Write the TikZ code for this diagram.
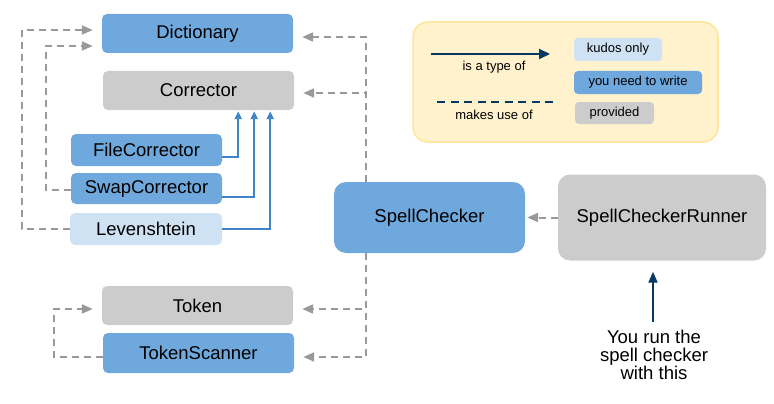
\documentclass[tikz,border=0pt]{standalone}
\usepackage{fontspec}
\setmainfont{Liberation Sans}
\usetikzlibrary{arrows.meta}

\definecolor{mustwrite}{HTML}{6FA8DC}
\definecolor{kudos}{HTML}{CFE2F3}
\definecolor{given}{HTML}{CCCCCC}
\definecolor{typeblue}{HTML}{3D85C6}
\definecolor{usegray}{HTML}{999999}
\definecolor{navy}{HTML}{073763}
\definecolor{keyfill}{HTML}{FFF2CC}
\definecolor{keyline}{HTML}{FFE599}

\begin{document}
\begin{tikzpicture}[x=1pt,y=-1pt,
  cls/.style={rectangle,rounded corners=5pt,inner sep=0pt,
    font=\fontsize{18.5}{20}\selectfont},
  big/.style={cls,rounded corners=12pt},
  keybox/.style={rectangle,rounded corners=4pt,inner sep=0pt,
    font=\fontsize{13}{15}\selectfont},
  isa/.style={typeblue,line width=2pt,-{Triangle[length=8pt,width=7pt]}},
  uses/.style={usegray,line width=2pt,dash pattern=on 7pt off 5pt,
    -{Triangle[length=11pt,width=9pt]}},
  keytext/.style={font=\fontsize{13}{15}\selectfont}]
\useasboundingbox (0,0) rectangle (774,404);

%Classes
\node[cls,fill=mustwrite,minimum width=191pt,minimum height=39pt] (dict) at (197.5,33.5) {Dictionary};
\node[cls,fill=given,minimum width=191pt,minimum height=39pt] (corr) at (198.5,90.5) {Corrector};
\node[cls,fill=mustwrite,minimum width=151pt,minimum height=32pt] (filec) at (146.5,150) {FileCorrector};
\node[cls,fill=mustwrite,minimum width=151pt,minimum height=31pt] (swapc) at (146.5,188.5) {SwapCorrector};
\node[cls,fill=kudos,minimum width=152pt,minimum height=32pt] (leven) at (146,229) {Levenshtein};
\node[cls,fill=given,minimum width=191pt,minimum height=39pt] (token) at (197.5,305.5) {Token};
\node[cls,fill=mustwrite,minimum width=191pt,minimum height=40pt] (tscan) at (198.5,353) {TokenScanner};
\node[big,fill=mustwrite,minimum width=191pt,minimum height=71pt] (spell) at (429.5,217.5) {SpellChecker};
\node[big,fill=given,minimum width=208pt,minimum height=86pt] (runner) at (662,217.5) {SpellCheckerRunner};
\node[align=center,inner sep=0pt,font=\fontsize{18.5}{18.3}\selectfont] (note) at (654,355) {You run the\\spell checker\\with this};

%Legend
\node[rectangle,rounded corners=15pt,fill=keyfill,draw=keyline,line width=1.5pt,
  minimum width=305pt,minimum height=120pt] (legend) at (565.5,82) {};
\coordinate (isaA) at (431,54);
\coordinate (isaB) at (550,54);
\coordinate (useA) at (437,102);
\coordinate (useB) at (557,102);
\draw[navy,line width=2pt,-{Triangle[length=11pt,width=10pt]}] (isaA) -- (isaB);
\draw[navy,line width=2pt,dash pattern=on 8pt off 5.5pt] (useA) -- (useB);
\node[keytext] (isalabel) at (494,67) {is a type of};
\node[keytext] (uselabel) at (494,115) {makes use of};
\node[keybox,fill=kudos,minimum width=88pt,minimum height=23pt] (kkudos) at (618,49.5) {kudos only};
\node[keybox,fill=mustwrite,minimum width=128pt,minimum height=23pt] (kwrite) at (638,82.5) {you need to write};
\node[keybox,fill=given,minimum width=79pt,minimum height=22pt] (kgiven) at (614.5,113) {provided};

%Is a type of
\draw[isa] ([yshift=-7pt]filec.east) -| ([xshift=-56pt,yshift=-1pt]corr.south east);
\draw[isa] ([yshift=-8pt]swapc.east) -| ([xshift=-40pt,yshift=-1pt]corr.south east);
\draw[isa] (leven.east) -| ([xshift=-24pt,yshift=-1pt]corr.south east);

%Makes use of
\draw[uses] (leven.west) -- ++(-48,0) |- ([xshift=-9pt,yshift=3.5pt]dict.west);
\draw[uses] ([yshift=-1.5pt]swapc.west) -- ++(-25,0) |- ([xshift=-9pt,yshift=-12.5pt]dict.west);
\draw[uses] ([yshift=-4pt]tscan.west) -- ++(-49,0) |- ([xshift=-9pt,yshift=-3.5pt]token.west);
\draw[uses] ([xshift=32pt]spell.north west) |- ([xshift=9pt,yshift=-3.5pt]dict.east);
\draw[uses] ([xshift=32pt]spell.north west) |- ([xshift=9pt,yshift=-2.5pt]corr.east);
\draw[uses] ([xshift=32pt]spell.south west) |- ([xshift=9pt,yshift=-3.5pt]token.east);
\draw[uses] ([xshift=32pt]spell.south west) |- ([xshift=9pt,yshift=-4pt]tscan.east);
\draw[uses] (runner.west) -- ([xshift=2pt]spell.east);

%Runner note
\draw[navy,line width=2pt,-{Triangle[length=11pt,width=9pt]},shorten <=8pt,shorten >=11pt]
  ([xshift=-1pt]note.north) -- ([xshift=-1pt]note.north |- runner.south);

\end{tikzpicture}
\end{document}
